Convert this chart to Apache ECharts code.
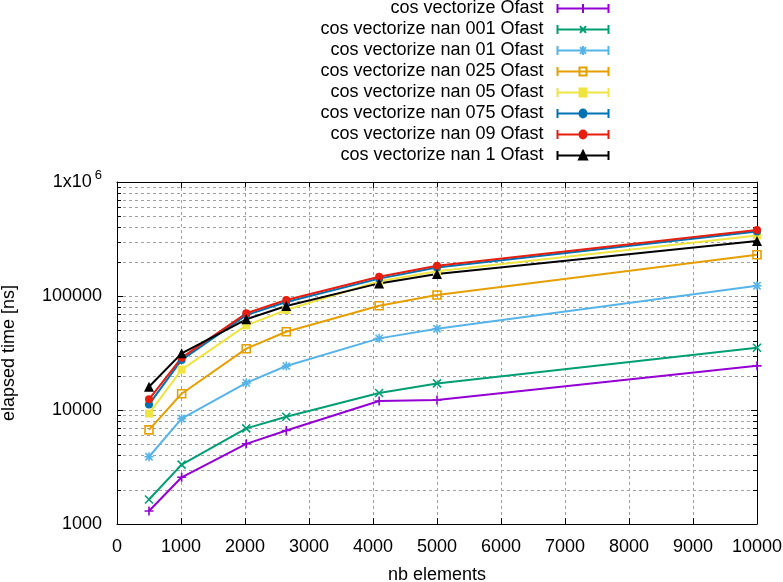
<!DOCTYPE html>
<html><head><meta charset="utf-8">
<script src="https://cdn.jsdelivr.net/npm/echarts@6/dist/echarts.min.js"></script>
<style>html,body{margin:0;padding:0;background:#fff}#c{width:783px;height:582px}</style>
</head><body><div id="c"></div>
<script>
// ---- data ----
const xValues = [500, 1010, 2020, 2645, 4096, 5000, 10000];
const seriesNames = [
  'cos vectorize Ofast',
  'cos vectorize nan 001 Ofast',
  'cos vectorize nan 01 Ofast',
  'cos vectorize nan 025 Ofast',
  'cos vectorize nan 05 Ofast',
  'cos vectorize nan 075 Ofast',
  'cos vectorize nan 09 Ofast',
  'cos vectorize nan 1 Ofast'
];
const vecOfast    = [1300, 2570, 5050, 6600, 12000, 12250, 24400];
const nan001Ofast = [1640, 3320, 6900, 8730, 14100, 17100, 35200];
const nan01Ofast  = [3890, 8400, 17300, 24300, 42500, 51600, 123000];
const nan025Ofast = [6700, 13900, 34500, 48600, 82200, 102000, 230000];
const nan05Ofast  = [9300, 22600, 55300, 75300, 135000, 165000, 340000];
const nan075Ofast = [11200, 27500, 68000, 88500, 142000, 178000, 368000];
const nan09Ofast  = [12400, 28800, 70500, 92300, 147600, 184500, 379000];
const nan1Ofast   = [16000, 31400, 62500, 81700, 129000, 156000, 303000];
const xTickLabels = ['0', '1000', '2000', '3000', '4000', '5000', '6000', '7000', '8000', '9000', '10000'];
const yTickLabels = ['1000', '10000', '100000', '1x10^6'];
const yMinorTicks = [2000, 3000, 4000, 5000, 6000, 7000, 8000, 9000,
                     20000, 30000, 40000, 50000, 60000, 70000, 80000, 90000,
                     200000, 300000, 400000, 500000, 600000, 700000, 800000, 900000];
const xAxisTitle = 'nb elements';
const yAxisTitle = 'elapsed time [ns]';

// ---- styles ----
const F = "'Liberation Sans', Arial, sans-serif";
const FS = 18;
const allValues = [vecOfast, nan001Ofast, nan01Ofast, nan025Ofast, nan05Ofast, nan075Ofast, nan09Ofast, nan1Ofast];
const colors = ['#9400d3', '#009e73', '#56b4e9', '#e69f00', '#f0e442', '#0072b2', '#e51e10', '#000000'];
const PLUS = 'path://M0,5L10,5M5,0L5,10';
const CROSS = 'path://M0,0L10,10M10,0L0,10';
const STAR = 'path://M0,5L10,5M5,0L5,10M1,1L9,9M9,1L1,9';
const symbols = [
  {symbol: PLUS, size: 9, stroke: true},
  {symbol: CROSS, size: 8, stroke: true},
  {symbol: STAR, size: 9, stroke: true},
  {symbol: 'rect', size: 8, hollow: true},
  {symbol: 'rect', size: 8},
  {symbol: 'circle', size: 8},
  {symbol: 'circle', size: 8},
  {symbol: 'triangle', size: 10}
];
// legend sample: line with end caps + marker in the middle (gnuplot style)
const LEG_BASE = 'M0,4.5L51,4.5M0,0.5L0,8.5M51,0.5L51,8.5';
const legendMarks = [
  'M25.5,0.5L25.5,8.5',
  'M22.5,1.5L28.5,7.5M28.5,1.5L22.5,7.5',
  'M25.5,0.5L25.5,8.5M22.5,1.5L28.5,7.5M28.5,1.5L22.5,7.5',
  'M22,1L29,1L29,8L22,8Z',
  'M22,1L29,1L29,8L22,8Z',
  'M29,4.5A3.5,3.5,0,1,1,22,4.5A3.5,3.5,0,1,1,29,4.5Z',
  'M29,4.5A3.5,3.5,0,1,1,22,4.5A3.5,3.5,0,1,1,29,4.5Z',
  'M25.5,0.5L29.5,8L21.5,8Z'
];

const lineSeries = seriesNames.map((name, i) => {
  const s = symbols[i];
  const c = colors[i];
  let itemStyle;
  if (s.stroke) itemStyle = {color: c, borderColor: c, borderWidth: 1.6};
  else if (s.hollow) itemStyle = {color: 'rgba(0,0,0,0)', borderColor: c, borderWidth: 1.6};
  else itemStyle = {color: c};
  return {
    name: name,
    type: 'line',
    data: xValues.map((x, j) => [x, allValues[i][j]]),
    symbol: s.symbol,
    symbolSize: s.size,
    showAllSymbol: true,
    lineStyle: {color: c, width: 2},
    itemStyle: itemStyle,
    z: 3,
    animation: false
  };
});

const legendData = seriesNames.map((name, i) => {
  const s = symbols[i];
  const filled = !(s.stroke || s.hollow);
  return {
    name: name,
    icon: 'path://' + LEG_BASE + legendMarks[i],
    itemStyle: {color: filled ? colors[i] : 'none', borderColor: colors[i], borderWidth: 2}
  };
});

const minorSeries = {
  type: 'custom',
  name: 'minor',
  z: 1,
  silent: true,
  animation: false,
  data: yMinorTicks.map(v => [0, v]),
  encode: {x: 0, y: 1},
  renderItem: function (params, api) {
    const cs = params.coordSys;
    const p = api.coord([0, api.value(1)]);
    const y = Math.round(p[1]) + 0.5;
    return {type: 'group', children: [
      {type: 'line', shape: {x1: cs.x, y1: y, x2: cs.x + cs.width, y2: y},
       style: {stroke: '#a0a0a0', lineWidth: 1, lineDash: [3, 3]}},
      {type: 'line', shape: {x1: cs.x, y1: y, x2: cs.x + 4, y2: y},
       style: {stroke: '#000', lineWidth: 1}},
      {type: 'line', shape: {x1: cs.x + cs.width - 4, y1: y, x2: cs.x + cs.width, y2: y},
       style: {stroke: '#000', lineWidth: 1}}
    ]};
  }
};

const gridLine = {show: true, lineStyle: {color: '#a0a0a0', width: 1, type: [3, 3]}};
const axisLine = {show: true, onZero: false, lineStyle: {color: '#000', width: 1}};

const option = {
  backgroundColor: '#fff',
  animation: false,
  textStyle: {fontFamily: F},
  grid: {left: 117, right: 26, top: 182, bottom: 58, containLabel: false, outerBoundsMode: 'none'},
  legend: {
    orient: 'vertical', right: 172, top: -2, align: 'right', padding: 0,
    itemWidth: 51, itemHeight: 9, itemGap: 0,
    selectedMode: false,
    symbolKeepAspect: false,
    textStyle: {fontSize: FS, color: '#000', fontFamily: F, lineHeight: 21, padding: [0, 9, 0, 0]},
    data: legendData
  },
  xAxis: [{
    type: 'value', min: 0, max: 10000, interval: 1000, position: 'bottom',
    name: xAxisTitle, nameLocation: 'middle', nameGap: 42,
    nameTextStyle: {fontSize: FS, color: '#000', fontFamily: F},
    axisLine: axisLine,
    axisTick: {show: true, inside: true, length: 6, lineStyle: {color: '#000'}},
    axisLabel: {fontSize: FS, color: '#000', fontFamily: F, margin: 14,
      formatter: function (v) { const i = Math.round(v / 1000); return xTickLabels[i] !== undefined ? xTickLabels[i] : ''; }},
    splitLine: gridLine
  }, {
    type: 'value', min: 0, max: 10000, interval: 1000, position: 'top',
    axisLine: axisLine,
    axisTick: {show: true, inside: true, length: 6, lineStyle: {color: '#000'}},
    axisLabel: {show: false},
    splitLine: {show: false}
  }],
  yAxis: [{
    type: 'log', logBase: 10, min: 1000, max: 1000000, position: 'left',
    name: yAxisTitle, nameLocation: 'middle', nameGap: 99, nameRotate: 90,
    nameTextStyle: {fontSize: FS, color: '#000', fontFamily: F},
    axisLine: axisLine,
    axisTick: {show: true, inside: true, length: 6, lineStyle: {color: '#000'}},
    axisLabel: {
      fontSize: FS, color: '#000', fontFamily: F, margin: 15,
      formatter: function (v) {
        const i = Math.round(Math.log10(v)) - 3;
        const s = yTickLabels[i];
        if (s === undefined) return '';
        if (s.indexOf('^') >= 0) {
          const parts = s.split('^');
          return '{a|' + parts[0] + '}{b|' + parts[1] + '}';
        }
        return s;
      },
      rich: {
        a: {fontSize: FS, color: '#000', fontFamily: F},
        b: {fontSize: 13, color: '#000', fontFamily: F, padding: [0, 0, 14, 3]}
      }
    },
    splitLine: gridLine
  }, {
    type: 'log', logBase: 10, min: 1000, max: 1000000, position: 'right',
    axisLine: axisLine,
    axisTick: {show: true, inside: true, length: 6, lineStyle: {color: '#000'}},
    axisLabel: {show: false},
    splitLine: {show: false}
  }],
  series: [minorSeries].concat(lineSeries)
};

const chart = echarts.init(document.getElementById('c'), null, {renderer: 'canvas'});
chart.setOption(option);
</script>
</body></html>
